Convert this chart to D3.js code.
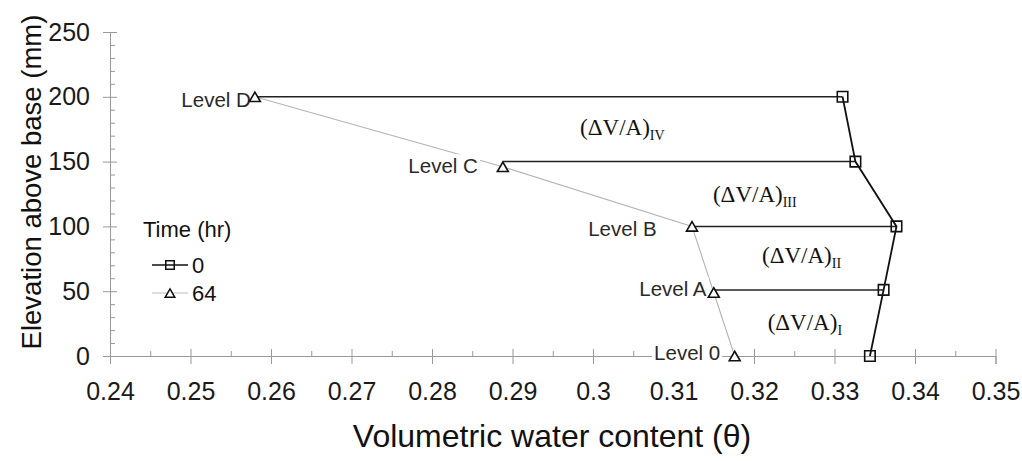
<!DOCTYPE html>
<html>
<head>
<meta charset="utf-8">
<script src="https://cdn.jsdelivr.net/npm/d3@7"></script>
<style>
  body { margin: 0; background: #fff; }
  svg { display: block; font-family: "Liberation Sans", Arial, sans-serif; }
</style>
</head>
<body>
<svg id="chart" width="1022" height="461"></svg>
<script>
// ---------------- data ----------------
const levelNames = ["Level 0", "Level A", "Level B", "Level C", "Level D"];
const elevation0 = [0, 51, 100, 150, 200];          // time 0 hr (squares)
const theta0     = [0.3344, 0.3361, 0.3377, 0.3326, 0.3310];
const elevation64 = [0, 49, 100, 146, 200];          // time 64 hr (triangles)
const theta64     = [0.3176, 0.3150, 0.3123, 0.2888, 0.2580];
const seriesNames = ["0", "64"];
const xTickValues = [0.24, 0.25, 0.26, 0.27, 0.28, 0.29, 0.30, 0.31, 0.32, 0.33, 0.34, 0.35];
const xTickLabels = ["0.24", "0.25", "0.26", "0.27", "0.28", "0.29", "0.3", "0.31", "0.32", "0.33", "0.34", "0.35"];
const yTickValues = [0, 50, 100, 150, 200, 250];
const yTickLabels = ["0", "50", "100", "150", "200", "250"];
const annoSubs = ["I", "II", "III", "IV"];
// annotation anchors (theta, elevation) in data units
const annoTheta = [0.3217, 0.3210, 0.3149, 0.2984];
const annoElev  = [20, 72, 119, 170.5];
// level label anchors (end theta, elevation of text centre)
const labelTheta = [0.3158, 0.3141, 0.3079, 0.2857, 0.2575];
const labelElev  = [2.3, 51.5, 98, 146.5, 197.5];

// ---------------- layout ----------------
const svg = d3.select("#chart");
const x = d3.scaleLinear().domain([0.24, 0.35]).range([110, 995.5]);
const y = d3.scaleLinear().domain([0, 250]).range([356, 32]);
const axisColor = "#999";
const sans = "'Liberation Sans', Arial, sans-serif";
const serif = "'Liberation Serif', 'Times New Roman', serif";

// minor ticks
const xMinor = d3.range(0.245, 0.35, 0.01);
const yMinor = d3.range(10, 250, 10).filter(v => v % 50 !== 0);

// X axis
const gx = svg.append("g").attr("transform", `translate(0,${y(0)})`);
gx.call(d3.axisBottom(x).tickValues(xTickValues).tickFormat((d, i) => xTickLabels[i]).tickSize(8).tickPadding(18));
gx.attr("font-family", null).attr("font-size", null);
gx.select(".domain").attr("stroke", axisColor).attr("stroke-width", 1);
gx.selectAll(".tick line").attr("stroke", axisColor).attr("y1", -7).attr("y2", 8);
gx.selectAll(".tick text").style("font-size", "25px").style("font-family", sans).attr("fill", "#1a1a1a");
const gxm = svg.append("g").attr("transform", `translate(0,${y(0)})`);
gxm.call(d3.axisBottom(x).tickValues(xMinor).tickFormat("").tickSize(-5));
gxm.select(".domain").remove();
gxm.selectAll(".tick line").attr("stroke", axisColor);

// Y axis
const gy = svg.append("g").attr("transform", `translate(${x(0.24)},0)`);
gy.call(d3.axisLeft(y).tickValues(yTickValues).tickFormat((d, i) => yTickLabels[i]).tickSize(7).tickPadding(13));
gy.select(".domain").attr("stroke", axisColor).attr("stroke-width", 1);
gy.selectAll(".tick line").attr("stroke", axisColor).attr("x1", 7).attr("x2", -7);
gy.selectAll(".tick text").style("font-size", "25px").style("font-family", sans).attr("fill", "#1a1a1a");
const gym = svg.append("g").attr("transform", `translate(${x(0.24)},0)`);
gym.call(d3.axisLeft(y).tickValues(yMinor).tickFormat("").tickSize(-5));
gym.select(".domain").remove();
gym.selectAll(".tick line").attr("stroke", axisColor);

// axis titles
svg.append("text").attr("x", 552).attr("y", 447).attr("text-anchor", "middle")
  .style("font-size", "32px").style("font-family", sans).attr("fill", "#111").text("Volumetric water content (θ)");
svg.append("text").attr("transform", "translate(41,182) rotate(-90)").attr("text-anchor", "middle")
  .style("font-size", "27.5px").style("font-family", sans).attr("fill", "#111").text("Elevation above base (mm)");

// ---------------- series ----------------
const pts0 = elevation0.map((e, i) => ({ e, t: theta0[i] }));
const pts64 = elevation64.map((e, i) => ({ e, t: theta64[i] }));
const line = d3.line().x(d => x(d.t)).y(d => y(d.e));

// 64 hr grey line
svg.append("path").datum(pts64).attr("d", line).attr("fill", "none")
  .attr("stroke", "#b4b4b4").attr("stroke-width", 1.1);

// level labels (white background)
const lbl = svg.append("g");
levelNames.forEach((name, i) => {
  const t = lbl.append("text").attr("x", x(labelTheta[i])).attr("y", y(labelElev[i]))
    .attr("dy", "0.35em").attr("text-anchor", "end").style("font-size", "20.5px").style("font-family", sans)
    .attr("fill", "#2a2a2a").text(name);
  const bb = t.node().getBBox();
  lbl.insert("rect", "text").attr("x", bb.x - 2).attr("y", bb.y).attr("width", bb.width + 4).attr("height", bb.height)
    .attr("fill", "#fff");
});
lbl.selectAll("text").raise();

// horizontal level lines (triangle -> square)
const levels = d3.range(1, elevation0.length);
svg.append("g").selectAll("line").data(levels).join("line")
  .attr("x1", i => x(theta64[i])).attr("x2", i => x(theta0[i]))
  .attr("y1", i => y(elevation0[i])).attr("y2", i => y(elevation0[i]))
  .attr("stroke", "#222").attr("stroke-width", 1.5);

// 0 hr black line
svg.append("path").datum(pts0).attr("d", line).attr("fill", "none")
  .attr("stroke", "#111").attr("stroke-width", 1.8);

// markers
const sq = d3.symbol(d3.symbolSquare, 110);
const tri = d3.symbol(d3.symbolTriangle, 52);
const triR = Math.sqrt(52 / (Math.sqrt(3) * 3));
svg.append("g").selectAll("path").data(pts64).join("path")
  .attr("d", tri).attr("transform", d => `translate(${x(d.t)},${y(d.e) + triR / 2})`)
  .attr("fill", "#fff").attr("stroke", "#111").attr("stroke-width", 1.6);
svg.append("g").selectAll("path").data(pts0).join("path")
  .attr("d", sq).attr("transform", d => `translate(${x(d.t)},${y(d.e)})`)
  .attr("fill", "none").attr("stroke", "#111").attr("stroke-width", 1.6);

// annotations (ΔV/A) with roman subscripts
annoSubs.forEach((s, i) => {
  const t = svg.append("text").attr("x", x(annoTheta[i])).attr("y", y(annoElev[i]))
    .style("font-family", serif).style("font-size", "23px").attr("fill", "#111");
  t.append("tspan").text("(ΔV/A)");
  t.append("tspan").style("font-size", "14px").attr("dy", 5).text(s);
});

// ---------------- legend ----------------
const lg = svg.append("g");
lg.append("text").attr("x", 143).attr("y", 229).attr("dy", "0.35em")
  .style("font-size", "22px").style("font-family", sans).attr("fill", "#111").text("Time (hr)");
const rows = [
  { name: seriesNames[0], y: 265, stroke: "#111", sw: 1.6, sym: d3.symbol(d3.symbolSquare, 72), off: 0, fill: "none" },
  { name: seriesNames[1], y: 293, stroke: "#bbb", sw: 1.2, sym: d3.symbol(d3.symbolTriangle, 40), off: 1.5, fill: "#fff" }
];
rows.forEach(r => {
  lg.append("line").attr("x1", 152).attr("x2", 188).attr("y1", r.y).attr("y2", r.y)
    .attr("stroke", r.stroke).attr("stroke-width", r.sw);
  lg.append("path").attr("d", r.sym).attr("transform", `translate(170,${r.y + r.off})`)
    .attr("fill", r.fill).attr("stroke", "#111").attr("stroke-width", 1.5);
  lg.append("text").attr("x", 192).attr("y", r.y).attr("dy", "0.35em")
    .style("font-size", "22px").style("font-family", sans).attr("fill", "#111").text(r.name);
});
</script>
</body>
</html>
